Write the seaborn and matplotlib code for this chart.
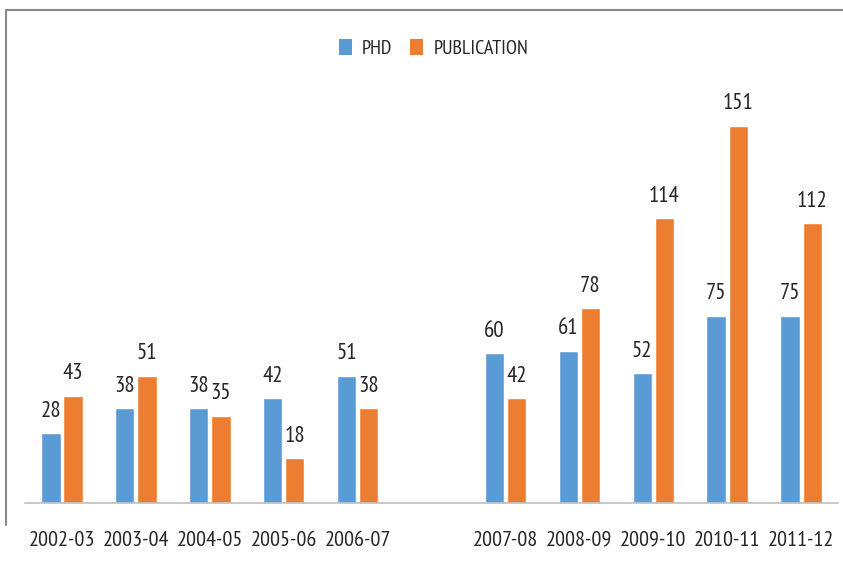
import matplotlib
matplotlib.use("Agg")
import matplotlib.pyplot as plt
from matplotlib.lines import Line2D
from matplotlib.patches import Patch
import seaborn as sns
import pandas as pd

# data
years = ["2002-03", "2003-04", "2004-05", "2005-06", "2006-07",
         "2007-08", "2008-09", "2009-10", "2010-11", "2011-12"]
phd = [28, 38, 38, 42, 51, 60, 61, 52, 75, 75]
publication = [43, 51, 35, 18, 38, 42, 78, 114, 151, 112]
series = ["PHD", "PUBLICATION"]
colors = ["#5B9BD5", "#ED7D31"]

# an empty slot between the two groups of years
order = years[:5] + [" "] + years[5:]

df = pd.DataFrame({
    "year": years * 2,
    "value": phd + publication,
    "series": [series[0]] * len(years) + [series[1]] * len(years),
})

sns.set_style("white")
plt.rcParams["font.family"] = ["PT Sans Narrow", "DejaVu Sans"]

fig = plt.figure(figsize=(8.43, 5.65), dpi=100)
ax = fig.add_axes([0.0297, 0.1097, 0.9644, 0.708])

sns.barplot(data=df, x="year", y="value", hue="series", order=order,
            hue_order=series, palette=colors, width=0.6, gap=0.13,
            saturation=1, legend=False, ax=ax)

for cont in ax.containers:
    ax.bar_label(cont, fmt="%d", padding=8, fontsize=16.5, color="#262626")

ax.set_ylim(0, 160)
ax.set_xlim(-0.5, 10.5)
ax.set_xlabel("")
ax.set_ylabel("")
ax.set_yticks([])
ax.tick_params(axis="x", length=0, pad=20, labelsize=16, labelcolor="#262626")
for s in ["left", "right", "top"]:
    ax.spines[s].set_visible(False)
ax.spines["bottom"].set_color("#BFBFBF")
ax.spines["bottom"].set_linewidth(1.2)

handles = [Patch(facecolor=c, edgecolor="none") for c in colors]
fig.legend(handles, series, loc="center", bbox_to_anchor=(0.514, 0.915),
           ncol=2, frameon=False, fontsize=14.5, handlelength=0.65,
           handleheight=0.85, handletextpad=0.5, columnspacing=0.9,
           labelcolor="#262626")

# outer border of the chart area (left and top edges)
fig.add_artist(Line2D([6 / 843, 6 / 843], [1 - 525 / 565, 1 - 10 / 565],
                      transform=fig.transFigure, color="#898989", lw=1.5))
fig.add_artist(Line2D([6 / 843, 1.0], [1 - 10 / 565, 1 - 10 / 565],
                      transform=fig.transFigure, color="#898989", lw=1.5))

fig.savefig("out.png", dpi=100)
